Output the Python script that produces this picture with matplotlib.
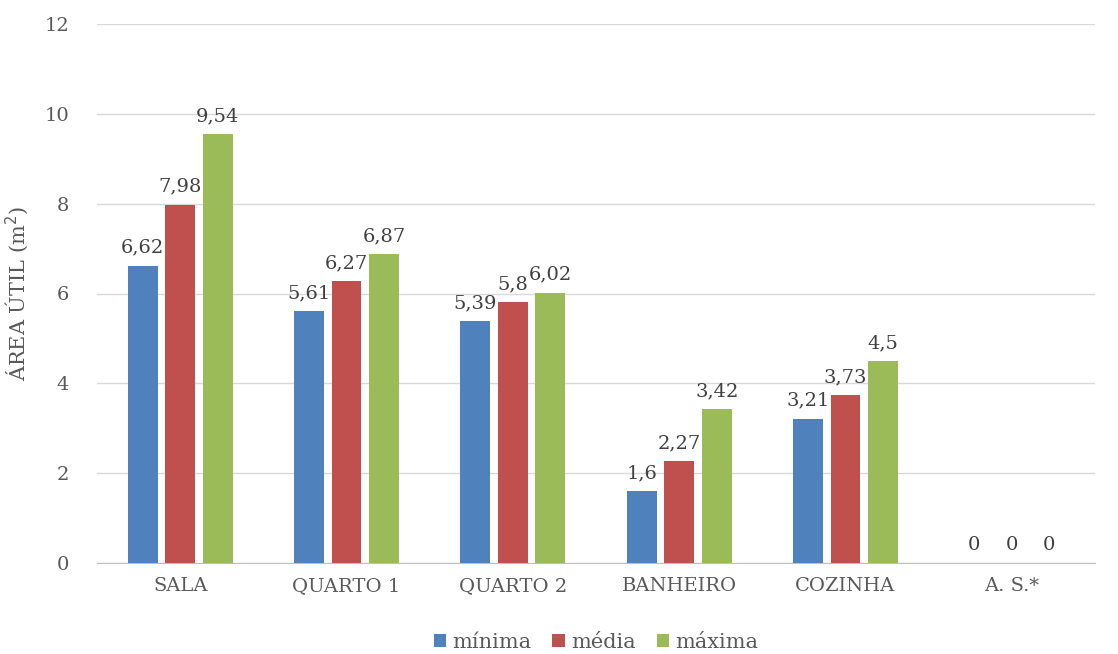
import matplotlib
matplotlib.use("Agg")
import matplotlib.pyplot as plt
import numpy as np

categories = ["SALA", "QUARTO 1", "QUARTO 2", "BANHEIRO", "COZINHA", "A. S.*"]
minima = [6.62, 5.61, 5.39, 1.6, 3.21, 0]
media = [7.98, 6.27, 5.8, 2.27, 3.73, 0]
maxima = [9.54, 6.87, 6.02, 3.42, 4.5, 0]
series_names = ["mínima", "média", "máxima"]
yticks = [0, 2, 4, 6, 8, 10, 12]

plt.rcParams['font.family'] = ['DejaVu Serif']
fig = plt.figure(figsize=(11.18, 6.54), dpi=100)
ax = fig.add_axes([97/1118, 1 - 563/654, 998/1118, (563 - 24)/654])

colors = ["#4F81BD", "#C0504D", "#9BBB59"]
x = np.arange(len(categories))
w = 0.18
step = 0.226
for i, (vals, name, c) in enumerate(zip([minima, media, maxima], series_names, colors)):
    pos = x + (i - 1) * step
    ax.bar(pos, vals, width=w, color=c, label=name, zorder=3)
    for p, v in zip(pos, vals):
        ax.text(p, v + 0.2, f"{v:g}".replace(".", ","), ha="center", va="bottom",
                fontsize=14, color="#404040")

ax.set_xlim(-0.5, len(categories) - 0.5)
ax.set_ylim(0, 12)
ax.set_yticks(yticks)
ax.set_xticks(x)
ax.set_xticklabels(categories)
ax.tick_params(axis="both", length=0, labelsize=14, colors="#595959", pad=10)
ax.tick_params(axis="y", pad=20, labelsize=14)
ax.grid(axis="y", color="#D9D9D9", linewidth=1, zorder=0)
for s in ["top", "right", "left"]:
    ax.spines[s].set_visible(False)
ax.spines["bottom"].set_color("#BFBFBF")
ax.set_ylabel("ÁREA ÚTIL (m$^2$)", fontsize=15, color="#595959", labelpad=10)

ax.legend(loc="upper center", bbox_to_anchor=(0.5, -0.095), ncol=3, frameon=False,
          fontsize=15, handlelength=0.6, handleheight=0.6, columnspacing=1.0,
          handletextpad=0.3, labelcolor="#595959")

fig.savefig("out.png", dpi=100)
